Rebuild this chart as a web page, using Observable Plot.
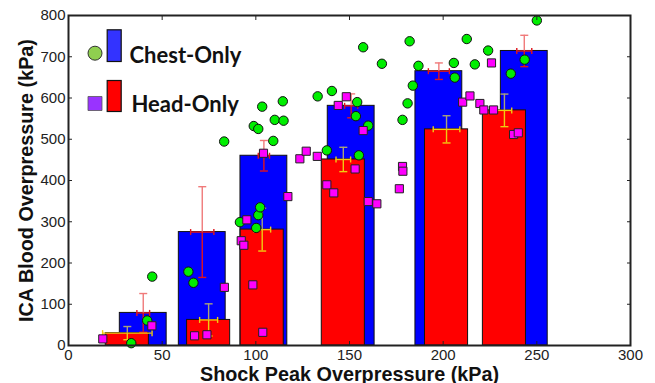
<!DOCTYPE html>
<html><head><meta charset="utf-8">
<script src="https://cdn.jsdelivr.net/npm/d3@7"></script>
<script src="https://cdn.jsdelivr.net/npm/@observablehq/plot@0.6"></script>
<style>body{margin:0;background:#fff;}</style>
</head><body><div id="chart"></div>
<script>
// Bar groups (center shock pressure, mean ICA pressure, errors)
const chestX = [39.9, 71.4, 104.3, 150.9, 197.7, 243.3];
const chestMean = [79, 275, 460, 581, 665, 714];
const chestYErr = [47, 110, 37, 29, 20, 38];
const chestXErr = [3.4, 6.2, 3, 3.5, 5.6, 4];

const headX = [31.4, 74.8, 103.4, 146.7, 201.8, 232.7];
const headMean = [30, 62, 281, 451, 524, 570];
const headYErr = [16, 39, 52, 29.5, 33, 39.5];
const headXErr = [13.2, 4.8, 4.5, 3.9, 7.1, 3.9];

// Individual measurements
const chestPX = [33.5, 42, 44.7, 64, 66.7, 91.5, 100.2, 101.3, 102.3, 83.1, 98.9, 101.3, 103.4, 109.3, 110.1, 114.8, 114.4,
  133, 140.6, 137.9, 154.1, 153.4, 160, 155, 157.3, 167.3, 178.3, 181, 183.8, 182.1, 186.8, 205.7, 206.2, 212.6, 216.9, 224, 236.1, 243.5, 250];
const chestPY = [5.6, 60.6, 167, 179, 152, 299, 285, 316, 335, 494.5, 532, 525, 579, 496, 547, 545, 592,
  604, 617, 473, 590, 556, 533, 461, 723, 683, 547, 587, 630, 737.5, 678, 685, 649.5, 743, 681.5, 715, 659, 693, 788];

const headPX = [18.3, 44.5, 67.3, 73.9, 83.2, 92.2, 93.6, 95.2, 98.4, 103.7, 104.1, 117.1, 123.5, 126.9, 132.8, 137.9, 141.6,
  144, 148.3, 153, 157.3, 160, 164.6, 176.6, 178.3, 178.5, 210.4, 214.3, 219.6, 221.7, 225.8, 226.9, 237.6, 240.1];
const headPY = [16, 47.7, 23.5, 26, 141, 254, 243, 304.7, 147, 32, 466, 361, 452.6, 471, 458.5, 389.5, 370,
  582, 603, 428, 521, 349, 343.5, 380, 434, 422.5, 590, 605, 586.7, 571, 685, 571, 511.5, 515.6];

const xTicks = [0, 50, 100, 150, 200, 250, 300];
const yTicks = [0, 100, 200, 300, 400, 500, 600, 700, 800];
const legendLabels = ["Chest-Only", "Head-Only"];
const xTitle = "Shock Peak Overpressure (kPa)";
const yTitle = "ICA Blood Overpressure (kPa)";

const chest = chestX.map((x, i) => ({x, y: chestMean[i], ye: chestYErr[i], xe: chestXErr[i]}));
const head = headX.map((x, i) => ({x, y: headMean[i], ye: headYErr[i], xe: headXErr[i]}));
const chestPts = chestPX.map((x, i) => ({x, y: chestPY[i]}));
const headPts = headPX.map((x, i) => ({x, y: headPY[i]}));

const hCap = {draw(ctx, size) { const w = Math.sqrt(size / Math.PI); ctx.moveTo(-w, 0); ctx.lineTo(w, 0); }};
const vCap = {draw(ctx, size) { const w = Math.sqrt(size / Math.PI); ctx.moveTo(0, -w); ctx.lineTo(0, w); }};

function errMarks(data, lowC, upC, sw) {
  return [
    Plot.ruleY(data, {y: "y", x1: d => d.x - d.xe, x2: d => d.x + d.xe, stroke: lowC, strokeWidth: sw}),
    Plot.dot(data, {x: d => d.x - d.xe, y: "y", symbol: vCap, r: 3, stroke: lowC, strokeWidth: sw, fill: "none"}),
    Plot.dot(data, {x: d => d.x + d.xe, y: "y", symbol: vCap, r: 3, stroke: lowC, strokeWidth: sw, fill: "none"}),
    Plot.ruleX(data, {x: "x", y1: d => d.y - d.ye, y2: "y", stroke: lowC, strokeWidth: sw}),
    Plot.ruleX(data, {x: "x", y1: "y", y2: d => d.y + d.ye, stroke: upC, strokeWidth: sw}),
    Plot.dot(data, {x: "x", y: d => d.y - d.ye, symbol: hCap, r: 4, stroke: lowC, strokeWidth: sw, fill: "none"}),
    Plot.dot(data, {x: "x", y: d => d.y + d.ye, symbol: hCap, r: 4, stroke: upC, strokeWidth: sw, fill: "none"})
  ];
}

const plot = Plot.plot({
  width: 655, height: 383,
  marginLeft: 68, marginRight: 25, marginTop: 15, marginBottom: 38,
  style: {fontFamily: "'Liberation Sans', Arial, sans-serif", fontSize: "15px", color: "#222", background: "#fff"},
  x: {domain: [0, 300], ticks: xTicks},
  y: {domain: [0, 800], ticks: yTicks},
  marks: [
    Plot.rect(chest, {x1: d => d.x - 12.5, x2: d => d.x + 12.5, y1: 0, y2: "y", fill: "#0000ff", stroke: "#111", strokeWidth: 1}),
    Plot.rect(head, {x1: d => d.x - 11.5, x2: d => d.x + 11.5, y1: 0, y2: "y", fill: "#ff0000", stroke: "#111", strokeWidth: 1}),
    ...errMarks(chest, "#e0141c", "#f07a7a", 1.4),
    ...errMarks(head, "#f0cc10", "#a8a27a", 1.4),
    Plot.dot(chestPts, {x: "x", y: "y", r: 4.7, fill: "#00ee00", stroke: "#111", strokeWidth: 1}),
    Plot.dot(headPts, {x: "x", y: "y", symbol: "square", r: 4.6, fill: "#ff00ff", stroke: "#222", strokeWidth: 1}),
    Plot.frame({stroke: "#222", strokeWidth: 2}),
    Plot.axisX({anchor: "bottom", ticks: xTicks, tickSize: -4, tickPadding: 8, label: null, stroke: "#222"}),
    Plot.axisX({anchor: "top", ticks: xTicks, tickSize: -4, tickFormat: () => "", label: null, stroke: "#222"}),
    Plot.axisY({anchor: "left", ticks: yTicks, tickSize: -4, tickPadding: 7, label: null, stroke: "#222"}),
    Plot.axisY({anchor: "right", ticks: yTicks, tickSize: -4, tickFormat: () => "", label: null, stroke: "#222"}),
    Plot.text([xTitle], {frameAnchor: "bottom", dy: 35, lineAnchor: "bottom", textAnchor: "middle", fontWeight: "bold", fontSize: 19.8, fill: "#111"}),
    Plot.text([yTitle], {frameAnchor: "left", dx: -42, rotate: -90, textAnchor: "middle", lineAnchor: "middle", fontWeight: "bold", fontSize: 19.8, fill: "#111"}),
    // legend
    Plot.dot([0], {frameAnchor: "top-left", dx: 26.5, dy: 37.7, r: 7, fill: "#8fcf4f", stroke: "#333", strokeWidth: 1}),
    Plot.frame({insetLeft: 38.7, insetRight: 509.3, insetTop: 14.3, insetBottom: 284, fill: "#3333ff", stroke: "#111", strokeWidth: 1.2}),
    Plot.dot([0], {frameAnchor: "top-left", dx: 26.5, dy: 88, symbol: "square", r: 7.9, fill: "#9933ff", stroke: "#555", strokeWidth: 0.8}),
    Plot.frame({insetLeft: 38.7, insetRight: 509.3, insetTop: 65, insetBottom: 234, fill: "#ff0000", stroke: "#111", strokeWidth: 1.2}),
    Plot.text([legendLabels[0]], {frameAnchor: "top-left", dx: 61, dy: 47.7, lineAnchor: "bottom", textAnchor: "start", fontFamily: "Lato", fontWeight: "bold", fontSize: 22, fill: "#111"}),
    Plot.text([legendLabels[1]], {frameAnchor: "top-left", dx: 63, dy: 96.7, lineAnchor: "bottom", textAnchor: "start", fontFamily: "Lato", fontWeight: "bold", fontSize: 22, fill: "#111"})
  ]
});
document.getElementById("chart").appendChild(plot);
</script>
</body></html>
